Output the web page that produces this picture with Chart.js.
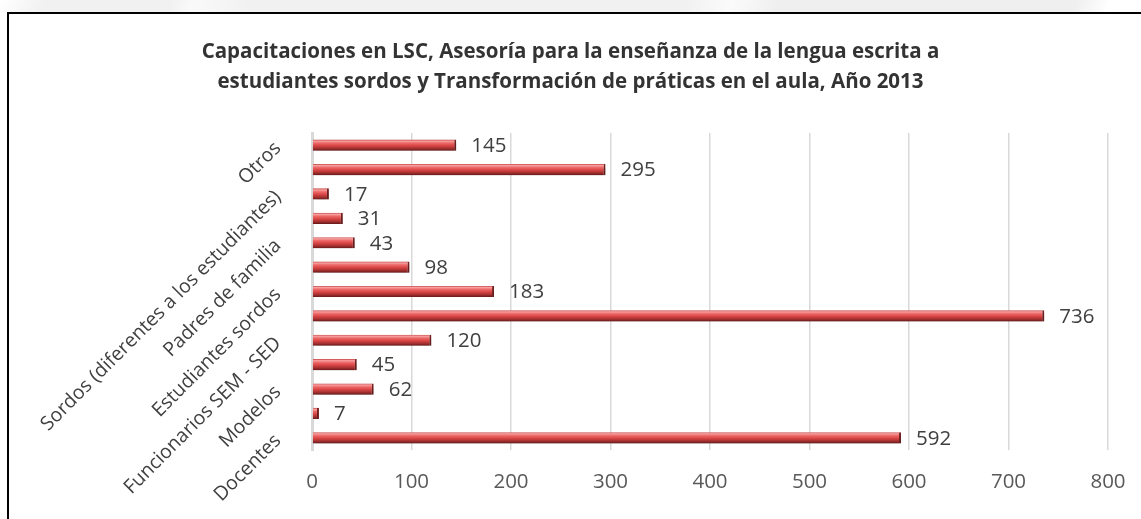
<!DOCTYPE html>
<html>
<head>
<meta charset="utf-8">
<script src="https://cdn.jsdelivr.net/npm/chart.js@4/dist/chart.umd.min.js"></script>
<style>
  html, body { margin: 0; padding: 0; background: #fff; }
  #wrap { position: relative; width: 1141px; height: 519px; overflow: hidden; }
  #strip { position: absolute; left: 0; top: 0; width: 1141px; height: 12px;
    background: linear-gradient(110deg, #fff 0%, #f1f1f1 4%, #f1f1f1 15%, #fafafa 17%, #f1f1f1 22%, #f1f1f1 60%, #fbfbfb 64%, #efefef 68%, #efefef 94%, #fff 97%); }
  #frame { position: absolute; left: 7px; top: 12px; width: 1150px; height: 520px;
    border-left: 2px solid #000; border-top: 2px solid #000; }
  canvas { position: absolute; left: 0; top: 0; }
</style>
</head>
<body>
<div id="wrap">
  <div id="strip"></div>
  <div id="frame"></div>
  <canvas id="chart" width="1141" height="519"></canvas>
</div>
<script>
// top to bottom; every other category has no visible label in the source
const categories = [
  'Otros', '',
  'Sordos (diferentes a los estudiantes)', '',
  'Padres de familia', '',
  'Estudiantes sordos', '',
  'Funcionarios SEM - SED', '',
  'Modelos', '',
  'Docentes',
];
const values = [145, 295, 17, 31, 43, 98, 183, 736, 120, 45, 62, 7, 592];
const xTicks = [0, 100, 200, 300, 400, 500, 600, 700, 800];
const titleLines = [
  'Capacitaciones en LSC, Asesoría para la enseñanza de la lengua escrita a',
  'estudiantes sordos y Transformación de práticas en el aula, Año 2013',
];

const BAR_PCT = 0.56;
const CAT_PCT = 0.82;

Chart.defaults.font.family = "'Open Sans', sans-serif";

// red bar with a cylinder-like shading, built from the y scale position
function barGradient(ctx) {
  const chart = ctx.chart;
  const ys = chart.scales.y;
  if (!ys || ctx.dataIndex == null) return '#d94444';
  const yc = ys.getPixelForValue(ctx.dataIndex);
  const half = (ys.height / categories.length) * BAR_PCT * CAT_PCT / 2;
  if (!isFinite(yc) || !isFinite(half) || half <= 0) return '#d94444';
  const g = chart.ctx.createLinearGradient(0, yc - half, 0, yc + half);
  g.addColorStop(0, '#c54040');
  g.addColorStop(0.14, '#f6a2a2');
  g.addColorStop(0.3, '#ee6a6a');
  g.addColorStop(0.55, '#d84444');
  g.addColorStop(0.78, '#a53131');
  g.addColorStop(1, '#681818');
  return g;
}

const barShadow = {
  id: 'barShadow',
  beforeDatasetDraw(chart) {
    const c = chart.ctx;
    c.save();
    c.shadowColor = 'rgba(0,0,0,0.28)';
    c.shadowBlur = 4;
    c.shadowOffsetX = 2;
    c.shadowOffsetY = 3;
  },
  afterDatasetDraw(chart) {
    chart.ctx.restore();
  },
};

const valueLabels = {
  id: 'valueLabels',
  afterDatasetsDraw(chart) {
    const c = chart.ctx;
    const meta = chart.getDatasetMeta(0);
    c.save();
    c.font = "20.5px 'Open Sans', sans-serif";
    c.fillStyle = '#404040';
    c.textAlign = 'left';
    c.textBaseline = 'middle';
    meta.data.forEach((bar, i) => {
      c.fillText(String(values[i]), bar.x + 15, bar.y + 1);
    });
    c.restore();
  },
};

new Chart(document.getElementById('chart'), {
  type: 'bar',
  data: {
    labels: categories,
    datasets: [{
      data: values,
      backgroundColor: barGradient,
      borderColor: '#7e2222',
      borderWidth: { top: 0, right: 2, bottom: 0, left: 0 },
      borderSkipped: 'start',
      barPercentage: BAR_PCT,
      categoryPercentage: CAT_PCT,
    }],
  },
  options: {
    indexAxis: 'y',
    responsive: false,
    animation: false,
    layout: { padding: { left: 33, right: 33, top: 0, bottom: 19 } },
    plugins: {
      legend: { display: false },
      tooltip: { enabled: false },
      title: {
        display: true,
        text: titleLines,
        color: '#333333',
        font: { size: 20.5, weight: 'bold', lineHeight: 30 / 20.5 },
        padding: { top: 37, bottom: 36 },
      },
    },
    scales: {
      x: {
        min: 0,
        max: 800,
        afterBuildTicks: s => { s.ticks = xTicks.map(v => ({ value: v })); },
        afterFit: s => { s.height = 50; s.paddingRight = 0; s.paddingLeft = 0; },
        grid: { color: '#d9d9d9', lineWidth: 1.5, drawTicks: false },
        border: { display: false },
        ticks: { color: '#595959', font: { size: 20.5 }, padding: 20 },
      },
      y: {
        afterFit: s => { s.width = 312 - 33; },
        grid: { display: false },
        border: { display: true, color: '#d9d9d9', width: 3 },
        ticks: {
          autoSkip: false,
          minRotation: 45,
          maxRotation: 45,
          padding: 26,
          color: '#404040',
          font: { size: 19.5 },
        },
      },
    },
  },
  plugins: [barShadow, valueLabels],
});
</script>
</body>
</html>
